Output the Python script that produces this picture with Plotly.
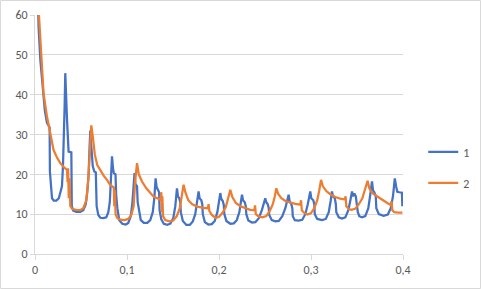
import plotly.graph_objects as go

# ---- data ----
blue_x = [
    0.003, 0.0039, 0.0058, 0.0087, 0.0107, 0.013, 0.015, 0.0159, 0.0162, 0.0172,
    0.0185, 0.0204, 0.0232, 0.0259, 0.028, 0.0293, 0.0304, 0.0313, 0.0322, 0.0329, 0.0338, 0.0348, 0.0365, 0.0384, 0.0395, 0.04,
    0.0416, 0.0449, 0.0492, 0.0525, 0.0552, 0.0568, 0.0583, 0.0592, 0.0601, 0.0612, 0.0628, 0.0645, 0.0661, 0.067,
    0.0688, 0.071, 0.0742, 0.0775, 0.0797, 0.0813, 0.0824, 0.0837, 0.0848, 0.0857, 0.0875, 0.0882,
    0.0895, 0.0916, 0.0949, 0.0987, 0.1014, 0.1041, 0.1058, 0.1074, 0.1082, 0.1092, 0.1109, 0.1116,
    0.1128, 0.115, 0.1183, 0.1221, 0.1253, 0.128, 0.1297, 0.1311, 0.1322, 0.1338, 0.1349, 0.1354,
    0.1373, 0.14, 0.1438, 0.1471, 0.1503, 0.1525, 0.1543, 0.1554, 0.1568, 0.1579, 0.1585,
    0.1607, 0.1645, 0.1683, 0.1715, 0.1742, 0.1764, 0.1778, 0.1789, 0.1808, 0.1818, 0.1824,
    0.1846, 0.1884, 0.1922, 0.1954, 0.1982, 0.2001, 0.2014, 0.2025, 0.2041, 0.2052, 0.2058,
    0.208, 0.2123, 0.2161, 0.2193, 0.2221, 0.2239, 0.225, 0.2261, 0.228, 0.2291, 0.2297,
    0.2319, 0.2359, 0.2395, 0.2433, 0.2466, 0.2488, 0.2503, 0.2514, 0.253, 0.2541, 0.2546,
    0.2574, 0.2612, 0.265, 0.2688, 0.2721, 0.2743, 0.2757, 0.2767, 0.2786, 0.2797, 0.2802,
    0.2824, 0.2865, 0.2905, 0.2938, 0.2965, 0.2982, 0.2992, 0.3003, 0.3025, 0.3036, 0.3041,
    0.3068, 0.312, 0.3161, 0.3193, 0.3215, 0.3228, 0.3239, 0.3259, 0.327, 0.3275,
    0.3302, 0.3337, 0.3373, 0.3406, 0.3428, 0.3446, 0.3457, 0.3471, 0.3487, 0.3498, 0.3509,
    0.3525, 0.3554, 0.359, 0.3623, 0.3645, 0.3663, 0.3674, 0.3688, 0.3704, 0.371,
    0.3737, 0.3789, 0.3835, 0.3867, 0.3891, 0.3911, 0.3925, 0.3938, 0.396, 0.3988, 0.3993,
]
blue_y = [
    65, 57, 48.7, 40.3, 36, 32.9, 32, 31.8, 20.7, 17,
    14, 13.4, 13.4, 14, 15.5, 17, 22, 28, 37, 45.4, 38, 33.7, 25.7, 25.5, 25.5, 12,
    10.9, 10.6, 10.6, 11, 12.5, 15.5, 20, 26, 31, 27, 22, 20.7, 20.5, 12,
    9.8, 9.1, 9, 9.2, 10.5, 13, 17, 24.5, 21.5, 20.3, 20, 15,
    11.5, 8.5, 7.6, 7.4, 7.8, 9.5, 12.8, 18, 20.3, 17.5, 17, 13,
    11, 8.5, 7.8, 7.8, 8.5, 10.5, 14, 19, 16.8, 16.2, 15.5, 11,
    8.7, 7.6, 7.3, 7.6, 9, 12, 16.5, 14.5, 14, 13, 10.5,
    8.3, 7.3, 7.3, 8.2, 10, 13, 15.7, 14, 13.5, 12.5, 10,
    8, 7.4, 7.5, 8.3, 10.5, 13, 15.3, 13.8, 13.3, 12.3, 10,
    8.3, 7.6, 7.7, 8.5, 10.5, 13, 14.9, 13.5, 13, 12, 10,
    8.4, 7.9, 8, 9, 11, 13, 14, 13, 12.5, 11.5, 9.8,
    8.5, 8.2, 8.3, 9.5, 11.5, 13.5, 14.9, 13.3, 12.5, 11.5, 9.5,
    8.5, 8.4, 8.6, 10, 12.5, 14.5, 15.7, 14, 13.5, 12.5, 10,
    8.8, 8.5, 8.8, 10.5, 13.5, 15.7, 14.5, 14, 12.5, 10.5,
    9.2, 8.9, 9.2, 11, 13.5, 15.7, 14.5, 15.2, 14.5, 12, 10.5,
    9.5, 9.2, 9.5, 11.5, 15, 18.2, 16, 15.5, 14.5, 11.5,
    10, 9.6, 9.9, 11.5, 14.5, 19, 17, 15.6, 15.5, 15.4, 12,
]

orange_x = [
    0.003, 0.0058, 0.0076, 0.0093, 0.013, 0.0166, 0.0202, 0.0239, 0.0275, 0.0313, 0.0348,
    0.0354, 0.036, 0.0367, 0.0375, 0.0384,
    0.0405, 0.0449, 0.0492, 0.0525, 0.0558, 0.058, 0.0596, 0.0612, 0.0628, 0.065, 0.0677, 0.071, 0.0748, 0.0786, 0.0818, 0.0857,
    0.0862, 0.0868, 0.0876,
    0.0895, 0.0927, 0.0971, 0.1014, 0.1047, 0.1072, 0.109, 0.1109, 0.1128, 0.1163, 0.121, 0.1253, 0.1289, 0.1329, 0.1362,
    0.1373, 0.1379, 0.1384, 0.1392,
    0.1416, 0.146, 0.1503, 0.1541, 0.1574, 0.1596, 0.1615, 0.1634, 0.1666, 0.171, 0.1764, 0.183, 0.1878,
    0.1887, 0.1895,
    0.1922, 0.196, 0.1998, 0.2036, 0.2074, 0.2101, 0.2123, 0.2145, 0.2183, 0.2232, 0.2286, 0.234, 0.2383,
    0.2392, 0.24,
    0.2427, 0.2471, 0.2514, 0.2552, 0.2585, 0.2607, 0.2623, 0.2645, 0.2678, 0.2722, 0.2777, 0.2829, 0.2883,
    0.2892, 0.29,
    0.2927, 0.296, 0.2998, 0.3036, 0.3068, 0.309, 0.3109, 0.3129, 0.3166, 0.321, 0.3264, 0.3318, 0.3367,
    0.3376, 0.3384,
    0.3411, 0.3443, 0.3482, 0.352, 0.3558, 0.3585, 0.3601, 0.3615, 0.3634, 0.3666, 0.3717, 0.3775, 0.3829, 0.3867,
    0.3875, 0.3884,
    0.3905, 0.3949, 0.3993,
]
orange_y = [
    65, 54, 47, 40.3, 34.5, 30.3, 26.1, 24.2, 22.8, 21.8, 21.1,
    18, 21.5, 14, 19, 12,
    11.3, 11.1, 11, 11.5, 13.5, 19, 27, 32.3, 29.5, 25, 22.3, 21, 19.6, 18.5, 17.3, 16.7,
    12, 16, 10,
    9, 8.6, 8.5, 8.8, 9.8, 12, 18.6, 22.8, 20, 18.2, 16.5, 15.2, 14.4, 14, 13.6,
    15.5, 10.5, 14.5, 9.5,
    8.5, 8.2, 8.4, 9.5, 11.5, 14.5, 17.4, 15.5, 13.5, 12.5, 11.9, 11.6, 11.5,
    12.5, 10.8,
    9.8, 9.1, 9.3, 10.3, 11.8, 14, 16.1, 14.3, 12.8, 12, 11.5, 11.1, 11,
    12.2, 10,
    9.5, 9.2, 9.5, 10.8, 12.5, 14.5, 16.5, 15, 14, 13.3, 12.9, 12.6, 12.4,
    13.5, 11,
    10.3, 9.9, 10.2, 11.5, 13.5, 16, 18.6, 17, 15.8, 15, 14.3, 13.9, 13.7,
    14.5, 12,
    11.3, 11.1, 11.4, 12.5, 14, 16, 17.5, 18.4, 16.5, 15.3, 14.5, 13.5, 12.8, 12.3,
    13.2, 11,
    10.5, 10.4, 10.4,
]

series_names = ["1", "2"]
x_tick_vals = [0, 0.1, 0.2, 0.3, 0.4]
x_tick_text = ["0", "0,1", "0,2", "0,3", "0,4"]
y_tick_vals = [0, 10, 20, 30, 40, 50, 60]

# ---- figure ----
FONT = "Carlito, Calibri, Liberation Sans, Arial, sans-serif"
GRID = "#d9d9d9"

fig = go.Figure()
fig.add_trace(go.Scatter(x=blue_x, y=blue_y, mode="lines", name=series_names[0],
                         legendgroup="g1",
                         line=dict(color="#4472C4", width=2.25)))
fig.add_trace(go.Scatter(x=orange_x, y=orange_y, mode="lines", name=series_names[1],
                         legendgroup="g2",
                         line=dict(color="#ED7D31", width=2.25)))

fig.update_layout(
    width=481, height=289,
    margin=dict(l=35, r=78, t=15, b=35, autoexpand=False),
    paper_bgcolor="white", plot_bgcolor="white",
    font=dict(family=FONT, size=12, color="#595959"),
    showlegend=True,
    legend=dict(x=1.055, y=0.362, xanchor="left", yanchor="middle",
                tracegroupgap=12, font=dict(size=12, color="#595959"),
                bgcolor="rgba(0,0,0,0)"),
    xaxis=dict(range=[0, 0.4], tickvals=x_tick_vals, ticktext=x_tick_text,
               automargin=False,
               showgrid=False, zeroline=False, showline=True, linecolor=GRID,
               linewidth=1, ticks="outside", ticklen=5, tickcolor=GRID,
               tickfont=dict(size=12, color="#595959")),
    yaxis=dict(range=[0, 60], tickvals=y_tick_vals, showgrid=True, gridcolor=GRID,
               automargin=False,
               gridwidth=1, zeroline=False, showline=True, linecolor=GRID,
               linewidth=1, ticks="outside", ticklen=4, tickcolor=GRID,
               tickfont=dict(size=12, color="#595959")),
    shapes=[dict(type="rect", xref="paper", yref="paper",
                 x0=-0.0937, x1=1.2106, y0=-0.1444, y1=1.0607,
                 line=dict(color=GRID, width=1), fillcolor="rgba(0,0,0,0)",
                 layer="below")],
)

fig.write_html(
    "out.html",
    config={"displayModeBar": False, "staticPlot": True},
    post_script="document.body.style.margin='0';document.body.style.padding='0';"
                "document.body.style.overflow='hidden';",
)
